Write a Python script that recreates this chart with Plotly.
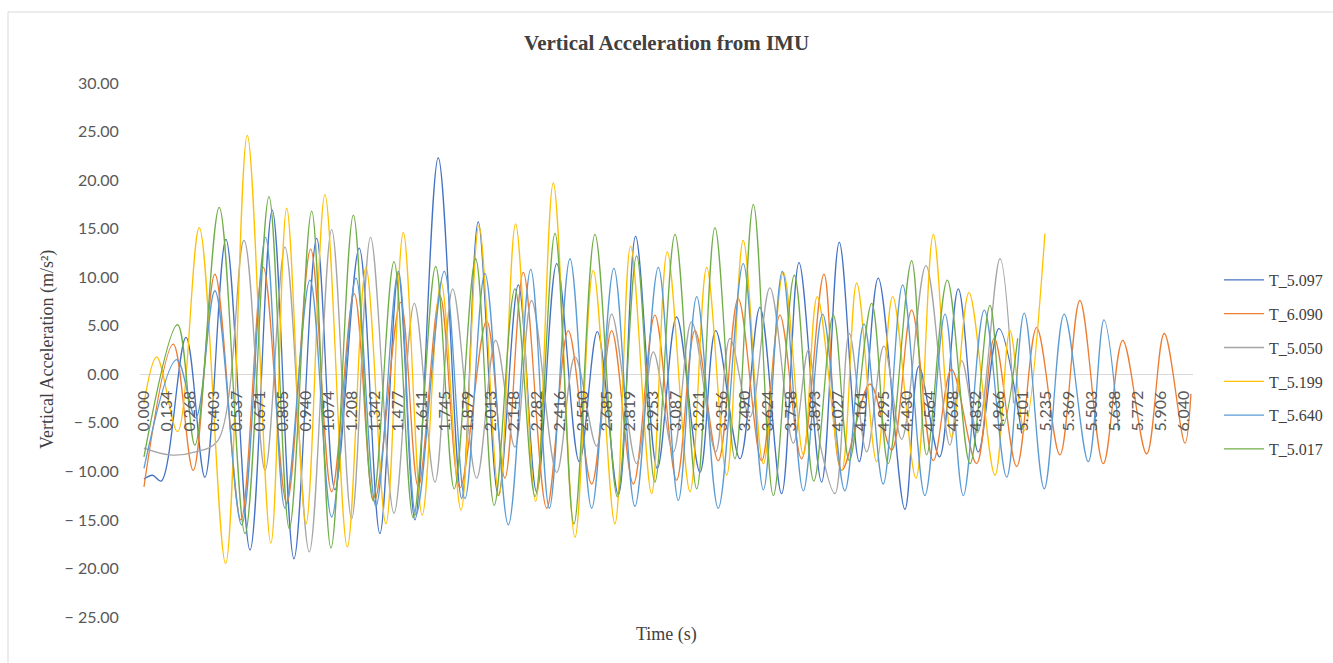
import plotly.graph_objects as go

# ---------------- data (local extrema of each trace) ----------------
series_names = ["T_5.097", "T_6.090", "T_5.050", "T_5.199", "T_5.640", "T_5.017"]
series_colors = ["#4472C4", "#ED7D31", "#A5A5A5", "#FFC000", "#5B9BD5", "#70AD47"]

t_5097 = [0.000, 0.050, 0.100, 0.244, 0.354, 0.476, 0.616, 0.745, 0.871, 1.003, 1.109, 1.250, 1.370, 1.477,
          1.574, 1.709, 1.845, 1.941, 2.058, 2.174, 2.280, 2.397, 2.528, 2.633, 2.755, 2.855, 2.981, 3.093,
          3.229, 3.320, 3.461, 3.577, 3.703, 3.804, 3.935, 4.038, 4.154, 4.264, 4.419, 4.500, 4.620, 4.729,
          4.845, 4.965, 5.097]
a_5097 = [-10.8, -10.4, -11.0, 3.8, -10.6, 13.9, -18.1, 16.9, -19.0, 14.0, -11.9, 13.0, -16.4, 10.4,
          -15.0, 22.3, -12.8, 15.7, -12.5, 9.2, -12.1, 11.4, -9.0, 4.4, -12.4, 14.2, -9.7, 5.9,
          -10.1, 4.5, -8.7, 6.9, -12.3, 11.5, -11.1, 13.6, -9.0, 9.9, -13.9, 0.8, -8.5, 8.8,
          -8.0, 4.7, -6.1]

t_6090 = [0.000, 0.170, 0.286, 0.412, 0.563, 0.693, 0.829, 0.968, 1.090, 1.221, 1.337, 1.490, 1.593, 1.719,
          1.835, 1.990, 2.096, 2.203, 2.339, 2.464, 2.600, 2.716, 2.842, 2.967, 3.093, 3.200, 3.335, 3.451,
          3.587, 3.693, 3.819, 3.949, 4.052, 4.216, 4.342, 4.458, 4.584, 4.690, 4.835, 4.938, 5.068, 5.184,
          5.319, 5.435, 5.571, 5.684, 5.823, 5.925, 6.045, 6.080]
a_6090 = [-11.6, 3.1, -9.9, 10.3, -15.0, 11.0, -13.3, 12.9, -12.1, 8.3, -13.1, 7.4, -11.6, 8.1,
          -11.7, 5.5, -10.7, 10.5, -13.8, 4.5, -11.3, 4.5, -11.3, 6.1, -10.9, 4.5, -8.9, 7.8,
          -8.9, 6.1, -8.7, 10.3, -9.9, -1.0, -7.8, 6.6, -8.9, 0.5, -9.2, 3.7, -9.5, 4.8,
          -8.3, 7.6, -9.2, 3.5, -8.2, 4.2, -7.1, -2.0]

t_5050 = [0.000, 0.150, 0.300, 0.430, 0.581, 0.703, 0.819, 0.960, 1.090, 1.206, 1.316, 1.452, 1.570, 1.690,
          1.793, 1.932, 2.042, 2.154, 2.251, 2.397, 2.503, 2.629, 2.716, 2.861, 2.958, 3.074, 3.180, 3.320,
          3.403, 3.519, 3.635, 3.771, 3.858, 3.930, 4.013, 4.096, 4.197, 4.297, 4.400, 4.541, 4.680, 4.749,
          4.840, 4.971, 5.050]
a_5050 = [-7.6, -8.3, -8.0, -6.8, 13.8, -9.9, 13.1, -18.3, 14.9, -14.9, 14.1, -14.3, 7.3, -11.1,
          8.8, -10.7, 3.5, -7.5, 7.6, -10.1, 1.8, -7.4, 6.2, -9.2, 2.3, -8.0, 5.4, -8.0,
          3.7, -4.4, 8.9, -7.1, 2.5, -7.5, -12.3, 4.2, -8.0, 2.9, -6.7, 11.2, -7.3, 1.4,
          -6.0, 11.9, -3.0]

t_5199 = [0.000, 0.074, 0.195, 0.321, 0.474, 0.600, 0.737, 0.829, 0.941, 1.051, 1.181, 1.289, 1.405, 1.506,
          1.616, 1.725, 1.841, 1.945, 2.062, 2.158, 2.275, 2.377, 2.503, 2.609, 2.735, 2.826, 2.948, 3.039,
          3.171, 3.268, 3.384, 3.480, 3.597, 3.713, 3.829, 3.910, 4.052, 4.139, 4.255, 4.348, 4.483, 4.584,
          4.690, 4.791, 4.942, 5.029, 5.112, 5.232]
a_5199 = [-3.0, 1.8, -5.9, 15.1, -19.5, 24.6, -17.4, 17.1, -15.4, 18.5, -17.8, 11.0, -15.4, 14.6,
          -14.5, 9.5, -14.0, 15.3, -12.5, 15.5, -13.1, 19.7, -16.8, 10.7, -15.4, 13.2, -12.3, 12.6,
          -12.1, 11.0, -10.4, 13.8, -9.2, 10.5, -8.3, 8.0, -9.9, 9.4, -9.0, 8.0, -10.7, 14.4,
          -6.5, 8.4, -10.4, 4.5, -5.8, 14.5]

t_5640 = [0.000, 0.190, 0.300, 0.412, 0.567, 0.706, 0.819, 0.964, 1.090, 1.231, 1.347, 1.477, 1.580, 1.744,
          1.864, 1.980, 2.116, 2.246, 2.354, 2.474, 2.600, 2.729, 2.851, 2.987, 3.103, 3.210, 3.335, 3.480,
          3.597, 3.707, 3.829, 3.941, 4.070, 4.181, 4.293, 4.406, 4.535, 4.652, 4.758, 4.880, 5.010, 5.112,
          5.228, 5.344, 5.484, 5.575, 5.660]
a_5640 = [-9.7, 1.5, -4.5, 8.6, -15.5, 14.1, -13.8, 9.7, -14.7, 9.9, -13.6, 10.6, -14.5, 10.6,
          -12.8, 10.4, -15.5, 10.8, -13.8, 11.9, -13.8, 10.9, -13.6, 11.0, -13.0, 8.0, -13.8, 11.4,
          -11.9, 10.6, -12.0, 6.2, -12.0, 5.2, -11.3, 9.2, -12.5, 6.2, -12.5, 6.6, -10.6, 6.3,
          -11.8, 6.2, -9.0, 5.6, -5.8]

t_5017 = [0.000, 0.195, 0.296, 0.437, 0.587, 0.726, 0.844, 0.974, 1.086, 1.216, 1.330, 1.452, 1.564, 1.694,
          1.802, 1.926, 2.034, 2.154, 2.271, 2.387, 2.497, 2.619, 2.749, 2.861, 2.967, 3.084, 3.210, 3.316,
          3.432, 3.539, 3.655, 3.777, 3.890, 4.003, 4.096, 4.226, 4.322, 4.458, 4.545, 4.665, 4.797, 4.913,
          4.990, 5.074]
a_5017 = [-8.5, 5.1, -7.3, 17.2, -16.4, 18.3, -15.9, 16.8, -17.9, 16.4, -13.0, 11.6, -14.8, 11.1,
          -11.8, 11.9, -13.5, 8.8, -12.6, 14.5, -15.4, 14.4, -12.6, 12.2, -11.1, 14.4, -11.8, 15.1,
          -8.7, 17.5, -12.5, 10.2, -11.0, 6.1, -8.9, 7.3, -9.2, 11.7, -8.3, 9.7, -9.2, 7.1,
          -5.2, 3.7]

series_t = [t_5097, t_6090, t_5050, t_5199, t_5640, t_5017]
series_a = [a_5097, a_6090, a_5050, a_5199, a_5640, a_5017]

x_tick_labels = ["0.000", "0.134", "0.268", "0.403", "0.537", "0.671", "0.805", "0.940", "1.074", "1.208",
                 "1.342", "1.477", "1.611", "1.745", "1.879", "2.013", "2.148", "2.282", "2.416", "2.550",
                 "2.685", "2.819", "2.953", "3.087", "3.221", "3.356", "3.490", "3.624", "3.758", "3.893",
                 "4.027", "4.161", "4.295", "4.430", "4.564", "4.698", "4.832", "4.966", "5.101", "5.235",
                 "5.369", "5.503", "5.638", "5.772", "5.906", "6.040"]
y_tick_values = [30, 25, 20, 15, 10, 5, 0, -5, -10, -15, -20, -25]

# ---------------- figure ----------------
W, H = 1333, 663
ML, MR, MT, MB = 140, 140, 83, 46
plot_w = W - ML - MR
plot_h = H - MT - MB
y_min, y_max = -25, 30
x_min, x_max = -0.023, 6.092


def px_to_paper_x(px):
    return (px - ML) / plot_w


def px_to_paper_y(py):
    return (H - MB - py) / plot_h


fig = go.Figure()
for i, (name, color, tt, aa) in enumerate(zip(series_names, series_colors, series_t, series_a)):
    fig.add_trace(go.Scatter(
        x=tt, y=aa, name=name, mode="lines",
        line=dict(color=color, width=1.3, shape="spline", smoothing=1.0),
        legendgroup=f"g{i}",
    ))

y_tick_text = [f"{v:.2f}" if v >= 0 else f"\u2212 {abs(v):.2f}" for v in y_tick_values]

tick_font = dict(family="Lato, 'Open Sans', sans-serif", size=16, color="#595959")
serif = "'Liberation Serif', 'DejaVu Serif', serif"

fig.update_layout(
    width=W, height=H,
    margin=dict(l=ML, r=MR, t=MT, b=MB, pad=0, autoexpand=False),
    paper_bgcolor="white", plot_bgcolor="white",
    showlegend=True,
    title=dict(text="Vertical Acceleration from IMU", x=0.5, xref="paper", xanchor="center",
               y=1 - 43 / H, yref="container", yanchor="middle",
               font=dict(family=serif, size=21, color="#404040", weight=700)),
    xaxis=dict(
        range=[x_min, x_max], showgrid=False, zeroline=False, showline=False,
        anchor="free", position=(0 - y_min) / (y_max - y_min),
        tickmode="array", tickvals=[float(s) for s in x_tick_labels], ticktext=x_tick_labels,
        tickangle=-90, ticks="outside", ticklen=9, tickcolor="rgba(0,0,0,0)",
        tickfont=tick_font,
    ),
    yaxis=dict(
        range=[y_min, y_max], showgrid=False, zeroline=True, zerolinecolor="#D9D9D9", zerolinewidth=1.2,
        showline=False, tickmode="array", tickvals=y_tick_values, ticktext=y_tick_text,
        ticks="outside", ticklen=17, tickcolor="rgba(0,0,0,0)", tickfont=tick_font,
    ),
    legend=dict(
        x=px_to_paper_x(1219), y=px_to_paper_y(263), xanchor="left", yanchor="top",
        font=dict(family=serif, size=16, color="#404040"),
        tracegroupgap=10, itemwidth=40, bgcolor="rgba(0,0,0,0)", borderwidth=0,
    ),
    annotations=[
        dict(text="Vertical Acceleration (m/s²)", x=px_to_paper_x(47), y=0.5, xref="paper", yref="paper",
             xanchor="center", yanchor="middle", textangle=-90, showarrow=False,
             font=dict(family=serif, size=18, color="#404040")),
        dict(text="Time (s)", x=0.5, y=px_to_paper_y(634), xref="paper", yref="paper",
             xanchor="center", yanchor="middle", showarrow=False,
             font=dict(family=serif, size=18, color="#404040")),
    ],
    shapes=[
        dict(type="rect", xref="paper", yref="paper",
             x0=px_to_paper_x(8), x1=px_to_paper_x(1345), y0=px_to_paper_y(675), y1=px_to_paper_y(12),
             line=dict(color="#D9D9D9", width=1), fillcolor="rgba(0,0,0,0)", layer="below"),
    ],
)

fig.write_html("out.html", config={"displayModeBar": False},
               post_script="document.body.style.margin='0px';")
